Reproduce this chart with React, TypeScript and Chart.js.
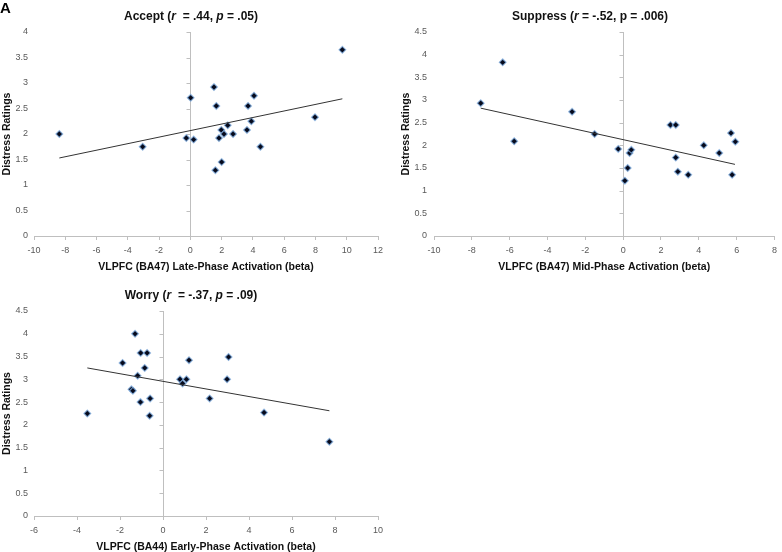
import React, { useEffect, useRef } from 'react';
import { Chart, registerables } from 'chart.js';

Chart.register(...registerables);

// ---------- Data ----------
const acceptX = [-8.38, -3.05, -0.26, 0.02, 0.21, 1.51, 1.66, 1.6, 2.0, 1.83, 1.98, 2.15, 2.39, 2.73, 3.62, 3.69, 4.07, 3.9, 4.48, 7.97, 9.72];
const acceptY = [2.0, 1.75, 1.92, 2.71, 1.89, 2.92, 2.55, 1.29, 1.45, 1.92, 2.08, 2.0, 2.17, 2.0, 2.08, 2.55, 2.75, 2.25, 1.75, 2.33, 3.65];
const acceptTrendX = [-8.38, 9.72];
const acceptTrendY = [1.53, 2.69];

const suppressX = [-7.53, -6.37, -5.76, -2.7, -1.51, -0.26, 0.09, 0.24, 0.34, 0.43, 2.5, 2.78, 2.78, 2.89, 3.44, 4.26, 5.08, 5.7, 5.76, 5.93];
const suppressY = [2.93, 3.83, 2.09, 2.74, 2.25, 1.92, 1.22, 1.5, 1.83, 1.9, 2.45, 2.45, 1.73, 1.42, 1.35, 2.0, 1.83, 2.27, 1.35, 2.08];
const suppressTrendX = [-7.53, 5.91];
const suppressTrendY = [2.82, 1.58];

const worryX = [-3.52, -1.88, -1.3, -1.04, -0.74, -0.85, -1.18, -1.47, -1.4, -1.05, -0.6, -0.62, 0.79, 0.91, 1.09, 1.21, 2.17, 2.98, 3.05, 4.7, 7.74];
const worryY = [2.25, 3.36, 4.0, 3.58, 3.58, 3.25, 3.08, 2.78, 2.75, 2.5, 2.58, 2.2, 3.0, 2.91, 3.0, 3.42, 2.58, 3.0, 3.49, 2.27, 1.63];
const worryTrendX = [-3.52, 7.74];
const worryTrendY = [3.25, 2.31];

type Seg = { text: string; italic?: boolean };
const acceptTitle: Seg[] = [{ text: 'Accept (' }, { text: 'r', italic: true }, { text: '  = .44, ' }, { text: 'p', italic: true }, { text: ' = .05)' }];
const suppressTitle: Seg[] = [{ text: 'Suppress (' }, { text: 'r', italic: true }, { text: ' = -.52, p = .006)' }];
const worryTitle: Seg[] = [{ text: 'Worry (' }, { text: 'r', italic: true }, { text: '  = -.37, ' }, { text: 'p', italic: true }, { text: ' = .09)' }];

const acceptXLabel = 'VLPFC (BA47) Late-Phase Activation (beta)';
const suppressXLabel = 'VLPFC (BA47) Mid-Phase Activation (beta)';
const worryXLabel = 'VLPFC (BA44) Early-Phase Activation (beta)';
const yLabel = 'Distress Ratings';
const panelLetter = 'A';

// ---------- Styling ----------
const FONT = "'Liberation Sans', Arial, Helvetica, sans-serif";
const AXIS_GRAY = '#bfbfbf';
const TICK_COLOR = '#595959';

type Panel = {
  left: number; top: number; width: number; height: number;
  xs: number[]; ys: number[]; tx: number[]; ty: number[];
  xMin: number; xMax: number; yMax: number;
  title: Seg[]; titleCx: number; titleCy: number;
  xLabel: string;
  padTop: number; padRight: number; padLeft: number;
  yWidth: number; xHeight: number; yTickPad: number; yTitlePad: number; xTitlePad: number;
  letter?: string;
};

const panels: Panel[] = [
  {
    left: 0, top: 0, width: 390, height: 280,
    xs: acceptX, ys: acceptY, tx: acceptTrendX, ty: acceptTrendY,
    xMin: -10, xMax: 12, yMax: 4,
    title: acceptTitle, titleCx: 191, titleCy: 17, xLabel: acceptXLabel,
    padTop: 32, padRight: 12, padLeft: 0, yWidth: 34, xHeight: 44, yTickPad: 6, yTitlePad: 2, xTitlePad: 8,
    letter: panelLetter,
  },
  {
    left: 390, top: 0, width: 392, height: 280,
    xs: suppressX, ys: suppressY, tx: suppressTrendX, ty: suppressTrendY,
    xMin: -10, xMax: 8, yMax: 4.5,
    title: suppressTitle, titleCx: 200, titleCy: 17, xLabel: suppressXLabel,
    padTop: 32, padRight: 3, padLeft: 0, yWidth: 44, xHeight: 44, yTickPad: 7, yTitlePad: 11, xTitlePad: 8,
  },
  {
    left: 0, top: 280, width: 390, height: 272,
    xs: worryX, ys: worryY, tx: worryTrendX, ty: worryTrendY,
    xMin: -6, xMax: 10, yMax: 4.5,
    title: worryTitle, titleCx: 191, titleCy: 16, xLabel: worryXLabel,
    padTop: 31, padRight: 12, padLeft: 0, yWidth: 34, xHeight: 36, yTickPad: 6, yTitlePad: 2, xTitlePad: 0,
  },
];

const zeroAxisPlugin = {
  id: 'zeroAxis',
  beforeDatasetsDraw(chart: any) {
    const { ctx, chartArea, scales } = chart;
    const x0 = Math.round(scales.x.getPixelForValue(0)) + 0.5;
    ctx.save();
    ctx.strokeStyle = AXIS_GRAY;
    ctx.lineWidth = 1;
    ctx.beginPath();
    ctx.moveTo(x0, chartArea.top);
    ctx.lineTo(x0, chartArea.bottom);
    scales.y.ticks.forEach((t: any) => {
      const y = Math.round(scales.y.getPixelForValue(t.value)) + 0.5;
      ctx.moveTo(x0 - 4, y);
      ctx.lineTo(x0, y);
    });
    ctx.stroke();
    ctx.restore();
  },
};

function makeTitlePlugin(p: Panel) {
  return {
    id: 'richTitle',
    afterDraw(chart: any) {
      const { ctx } = chart;
      ctx.save();
      ctx.fillStyle = '#111';
      ctx.textBaseline = 'middle';
      const fontFor = (s: Seg) => `${s.italic ? 'italic ' : ''}bold 12px ${FONT}`;
      let total = 0;
      p.title.forEach((s) => { ctx.font = fontFor(s); total += ctx.measureText(s.text).width; });
      let x = p.titleCx - total / 2;
      ctx.textAlign = 'left';
      p.title.forEach((s) => {
        ctx.font = fontFor(s);
        ctx.fillText(s.text, x, p.titleCy);
        x += ctx.measureText(s.text).width;
      });
      if (p.letter) {
        ctx.font = `bold 15px ${FONT}`;
        ctx.textBaseline = 'alphabetic';
        ctx.fillStyle = '#000';
        ctx.fillText(p.letter, 0, 13);
      }
      ctx.restore();
    },
  };
}

function ScatterPanel({ p }: { p: Panel }) {
  const ref = useRef<HTMLCanvasElement | null>(null);
  useEffect(() => {
    if (!ref.current) return;
    const pts = p.xs.map((x, i) => ({ x, y: p.ys[i] }));
    const trend = p.tx.map((x, i) => ({ x, y: p.ty[i] }));
    const chart = new Chart(ref.current, {
      type: 'scatter',
      data: {
        datasets: [
          {
            data: trend,
            showLine: true,
            borderColor: '#333',
            borderWidth: 1,
            pointRadius: 0,
            fill: false,
          } as any,
          {
            data: pts,
            pointStyle: 'rectRot',
            pointRadius: 3.4,
            backgroundColor: '#060a1c',
            borderColor: 'rgba(130,175,225,0.75)',
            borderWidth: 1.2,
          } as any,
        ],
      },
      options: {
        responsive: false,
        animation: false,
        events: [],
        layout: { padding: { top: p.padTop, right: p.padRight, left: p.padLeft, bottom: 0 } },
        plugins: { legend: { display: false }, tooltip: { enabled: false }, title: { display: false } },
        scales: {
          x: {
            type: 'linear',
            min: p.xMin,
            max: p.xMax,
            afterFit: (s: any) => { s.height = p.xHeight; },
            ticks: { stepSize: 2, color: TICK_COLOR, font: { family: FONT, size: 9 }, padding: 5, maxRotation: 0, callback: (v: any) => String(v) },
            grid: { display: true, drawOnChartArea: false, drawTicks: true, tickLength: 4, tickColor: AXIS_GRAY, color: AXIS_GRAY },
            border: { display: true, color: AXIS_GRAY },
            title: {
              display: true, text: p.xLabel, color: '#111',
              font: { family: FONT, size: 10.5, weight: 'bold', lineHeight: 1.0 },
              padding: { top: 0, bottom: p.xTitlePad },
            },
          },
          y: {
            type: 'linear',
            min: 0,
            max: p.yMax,
            afterFit: (s: any) => { s.width = p.yWidth; },
            ticks: { stepSize: 0.5, color: TICK_COLOR, font: { family: FONT, size: 9 }, padding: p.yTickPad, callback: (v: any) => String(v) },
            grid: { display: false, drawTicks: false },
            border: { display: false },
            title: {
              display: true, text: yLabel, color: '#111',
              font: { family: FONT, size: 10.5, weight: 'bold', lineHeight: 1.0 },
              padding: { top: p.yTitlePad, bottom: 0 },
            },
          },
        },
      } as any,
      plugins: [zeroAxisPlugin, makeTitlePlugin(p)],
    });
    return () => chart.destroy();
  }, [p]);
  return (
    <canvas
      ref={ref}
      width={p.width}
      height={p.height}
      style={{ position: 'absolute', left: p.left, top: p.top, width: p.width, height: p.height }}
    />
  );
}

export default function App() {
  return (
    <div style={{ position: 'fixed', left: 0, top: 0, width: 782, height: 552, background: '#fff', overflow: 'hidden' }}>
      {panels.map((p, i) => (
        <ScatterPanel key={i} p={p} />
      ))}
    </div>
  );
}
